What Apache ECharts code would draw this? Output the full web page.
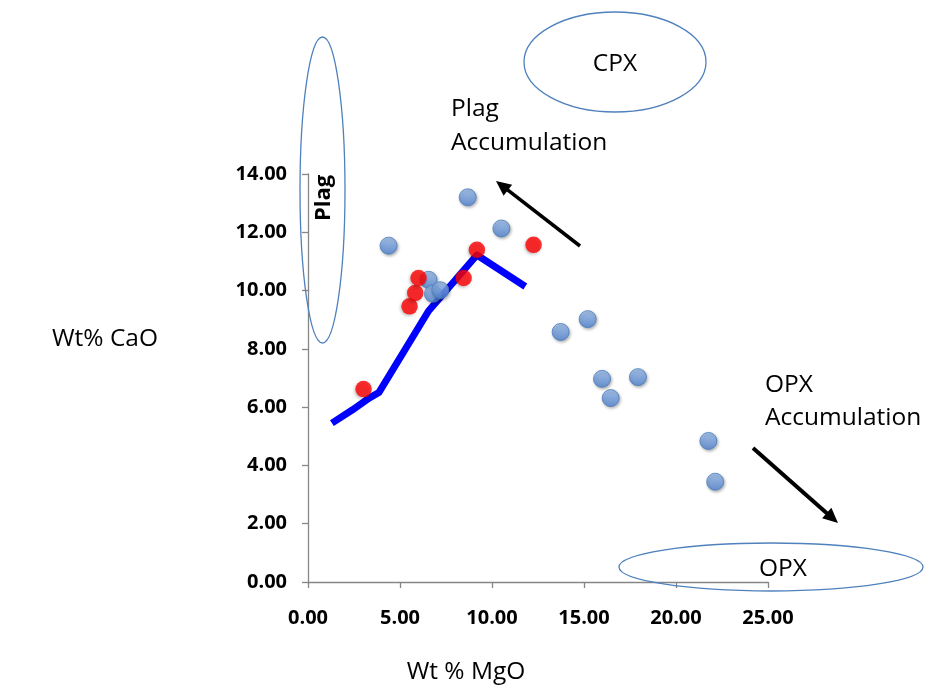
<!DOCTYPE html>
<html>
<head>
<meta charset="utf-8">
<script src="https://cdn.jsdelivr.net/npm/echarts@6/dist/echarts.min.js"></script>
<style>
  html, body { margin: 0; padding: 0; background: #ffffff; }
  #chart { width: 927px; height: 688px; }
</style>
</head>
<body>
<div id="chart"></div>
<script>
// Whole-rock samples (blue)
const rockMgO = [4.38, 8.68, 10.51, 6.55, 6.79, 7.19, 13.73, 15.20, 15.98, 16.45, 17.93, 21.76, 22.13];
const rockCaO = [11.54, 13.20, 12.13, 10.37, 9.89, 10.01, 8.58, 9.02, 6.97, 6.31, 7.03, 4.84, 3.44];

// Glass / liquid compositions (red)
const liqMgO = [3.02, 5.52, 5.83, 6.01, 8.46, 9.18, 12.26];
const liqCaO = [6.62, 9.46, 9.92, 10.43, 10.43, 11.40, 11.57];

// Liquid line of descent (blue trend)
const trendMgO = [1.30, 2.40, 3.30, 3.85, 6.55, 9.18, 11.81];
const trendCaO = [5.45, 5.90, 6.30, 6.50, 9.30, 11.22, 10.14];

// Axis ticks
const xTicks = [0, 5, 10, 15, 20, 25];
const yTicks = [0, 2, 4, 6, 8, 10, 12, 14];

const pairs = (xs, ys) => xs.map((x, i) => [x, ys[i]]);

const FONT = '"Open Sans", "Liberation Sans", sans-serif';
const AXIS_GREY = '#868686';
const SHAPE_BLUE = '#4f81bd';

// Arrow made of a shaft and a filled head, from tail to tip (pixels)
function arrow(tail, tip, width, headLen, headHalf) {
  const dx = tip[0] - tail[0], dy = tip[1] - tail[1];
  const len = Math.hypot(dx, dy);
  const ux = dx / len, uy = dy / len;
  const bx = tip[0] - ux * headLen, by = tip[1] - uy * headLen;
  const px = -uy, py = ux;
  return [
    {
      type: 'line', z: 50,
      shape: { x1: tail[0], y1: tail[1], x2: bx + ux * 2, y2: by + uy * 2 },
      style: { stroke: '#000', lineWidth: width }
    },
    {
      type: 'polygon', z: 50,
      shape: { points: [tip, [bx + px * headHalf, by + py * headHalf], [bx - px * headHalf, by - py * headHalf]] },
      style: { fill: '#000' }
    }
  ];
}

function label(text, x, y, opts) {
  return Object.assign({
    type: 'text', z: 60, x: x, y: y,
    style: Object.assign({
      text: text, fill: '#000', font: '24.5px ' + FONT,
      textAlign: 'center', textVerticalAlign: 'middle'
    }, (opts && opts.style) || {})
  }, (opts && opts.el) || {});
}

const chart = echarts.init(document.getElementById('chart'), null, { renderer: 'canvas' });

const tickLabel = {
  color: '#000', fontFamily: FONT, fontWeight: 'bold', fontSize: 20,
  formatter: v => v.toFixed(2)
};

chart.setOption({
  backgroundColor: '#ffffff',
  animation: false,
  grid: { left: 308, top: 174, width: 460, height: 408, containLabel: false },
  xAxis: {
    type: 'value', min: xTicks[0], max: xTicks[xTicks.length - 1], interval: xTicks[1] - xTicks[0],
    axisLine: { show: true, lineStyle: { color: AXIS_GREY, width: 1.3 } },
    axisTick: { show: true, inside: false, length: 6, lineStyle: { color: AXIS_GREY, width: 1.3 } },
    splitLine: { show: false },
    axisLabel: Object.assign({ margin: 26 }, tickLabel)
  },
  yAxis: {
    type: 'value', min: yTicks[0], max: yTicks[yTicks.length - 1], interval: yTicks[1] - yTicks[0],
    axisLine: { show: true, lineStyle: { color: AXIS_GREY, width: 1.3 } },
    axisTick: { show: true, inside: false, length: 6, lineStyle: { color: AXIS_GREY, width: 1.3 } },
    splitLine: { show: false },
    axisLabel: Object.assign({ margin: 21 }, tickLabel)
  },
  series: [
    {
      name: 'Trend', type: 'line', z: 2,
      data: pairs(trendMgO, trendCaO),
      symbol: 'none', smooth: false,
      lineStyle: { color: '#0000ff', width: 7, cap: 'butt', join: 'round' }
    },
    {
      name: 'Rocks', type: 'scatter', z: 3,
      data: pairs(rockMgO, rockCaO),
      symbol: 'circle', symbolSize: 17,
      itemStyle: {
        color: new echarts.graphic.LinearGradient(0, 0, 0, 1, [
          { offset: 0, color: '#9cc0f0' },
          { offset: 1, color: '#4f82d2' }
        ]),
        borderColor: '#4a7ebb', borderWidth: 1,
        shadowBlur: 3, shadowColor: 'rgba(0,0,0,0.35)', shadowOffsetX: 1, shadowOffsetY: 1.5
      }
    },
    {
      name: 'Liquids', type: 'scatter', z: 4,
      data: pairs(liqMgO, liqCaO),
      symbol: 'circle', symbolSize: 16.5,
      itemStyle: {
        color: '#ff0000',
        shadowBlur: 3, shadowColor: 'rgba(0,0,0,0.3)', shadowOffsetX: -1, shadowOffsetY: 1.5
      }
    }
  ],
  graphic: [
    // Mineral fields
    { type: 'ellipse', z: 40, shape: { cx: 322.5, cy: 190, rx: 22.5, ry: 153 },
      style: { fill: 'none', stroke: SHAPE_BLUE, lineWidth: 1.3 } },
    { type: 'ellipse', z: 40, shape: { cx: 615, cy: 62, rx: 91, ry: 50 },
      style: { fill: 'none', stroke: SHAPE_BLUE, lineWidth: 1.3 } },
    { type: 'ellipse', z: 40, shape: { cx: 771, cy: 567, rx: 152, ry: 24 },
      style: { fill: 'none', stroke: SHAPE_BLUE, lineWidth: 1.3 } },

    label('Plag', 324, 198, { el: { rotation: Math.PI / 2, originX: 0, originY: 0 },
      style: { font: 'bold 22px ' + FONT } }),
    label('CPX', 615, 64),
    label('OPX', 783, 569),

    label('Plag', 451, 109, { style: { textAlign: 'left' } }),
    label('Accumulation', 451, 143, { style: { textAlign: 'left' } }),
    label('OPX', 765, 385, { style: { textAlign: 'left' } }),
    label('Accumulation', 765, 418, { style: { textAlign: 'left' } }),

    label('Wt% CaO', 105, 339),
    label('Wt % MgO', 466, 672)
  ]
    .concat(arrow([580, 246], [496, 181], 3.5, 15, 7))
    .concat(arrow([753, 448], [838, 523], 4, 15, 7))
});
</script>
</body>
</html>
